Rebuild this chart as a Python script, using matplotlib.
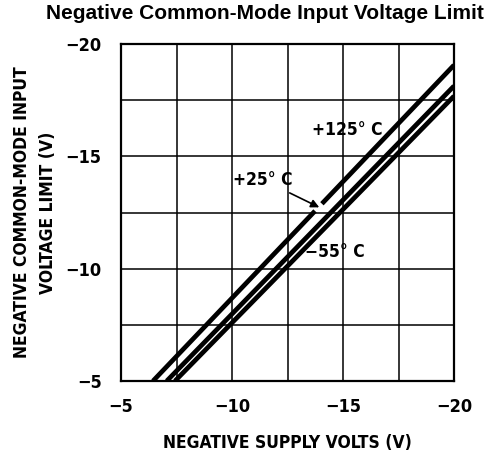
import matplotlib
matplotlib.use('Agg')
from matplotlib import pyplot as plt
import numpy as np

# supply voltage (V) vs negative common-mode input limit (V)
supply_125 = [-6.44, -13.74, np.nan, -14.05, -20.0]
limit_125 = [-5.0, -12.57, np.nan, -12.89, -19.06]
supply_25 = [-7.06, -20.0]
limit_25 = [-5.0, -18.13]
supply_m55 = [-7.43, -20.0]
limit_m55 = [-5.0, -17.68]

x_ticks = [-5, -10, -15, -20]
y_ticks = [-5, -10, -15, -20]
grid_step = 2.5

font = dict(family='DejaVu Sans', stretch='condensed', fontweight='bold')

fig = plt.figure(figsize=(5, 4.65), dpi=100)
ax = fig.add_axes([0.242, 0.1806, 0.666, 0.7248])

for xs, ys in [(supply_125, limit_125), (supply_25, limit_25), (supply_m55, limit_m55)]:
    ax.plot(xs, ys, color='black', lw=3.4, solid_capstyle='butt')

ax.set_xlim(-5, -20)
ax.set_ylim(-5, -20)
ax.set_xticks(x_ticks)
ax.set_yticks(y_ticks)
ax.set_xticks(np.arange(-5, -20.1, -grid_step), minor=True)
ax.set_yticks(np.arange(-5, -20.1, -grid_step), minor=True)
ax.grid(True, which='both', color='black', lw=1.1)
ax.tick_params(which='both', length=0)
ax.tick_params(axis='x', pad=12)
ax.tick_params(axis='y', pad=14)
for lab in ax.get_xticklabels() + ax.get_yticklabels():
    lab.set_family('DejaVu Sans')
    lab.set_stretch('condensed')
    lab.set_fontweight('bold')
    lab.set_fontsize(13)
for s in ax.spines.values():
    s.set_linewidth(1.6)

ax.text(-15.17, -16.17, '+125° C', fontsize=12.5, ha='center', va='center', **font)
ax.text(-14.64, -10.75, '−55° C', fontsize=12.5, ha='center', va='center', **font)
ax.annotate('+25° C', xy=(-13.93, -12.73), xytext=(-11.4, -13.95),
            fontsize=12.5, ha='center', va='center', **font,
            arrowprops=dict(arrowstyle='-|>', color='black', lw=1.2,
                            shrinkA=2, shrinkB=0, mutation_scale=12))

ax.set_xlabel('NEGATIVE SUPPLY VOLTS (V)', fontsize=12.5, labelpad=13, **font)
ax.set_ylabel('NEGATIVE COMMON-MODE INPUT\nVOLTAGE LIMIT (V)', fontsize=12.5,
              labelpad=6, linespacing=1.6, **font)

fig.text(0.53, 0.97, 'Negative Common-Mode Input Voltage Limit',
         family=['Liberation Sans', 'DejaVu Sans'], fontweight='bold',
         fontsize=15, ha='center', va='center')

plt.savefig('out.png', dpi=100)
